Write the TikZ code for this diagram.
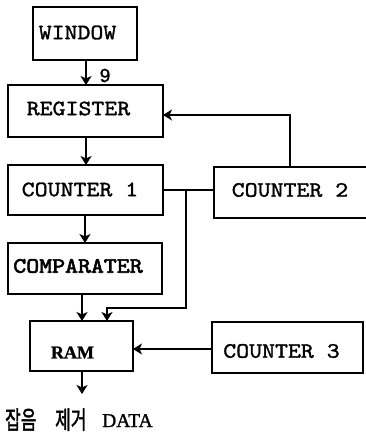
\documentclass[tikz,border=0pt]{standalone}
\usepackage{fontspec}
\usepackage{graphicx}
\setmainfont{Liberation Serif}
\newfontfamily\monof[FakeBold=1.3]{lmmono10-regular.otf}
\newfontfamily\monobf[FakeBold=2.6]{lmmono10-regular.otf}
\newfontfamily\serifbf[FakeBold=1.2]{Liberation Serif}
\newfontfamily\sansf[FakeBold=1.2]{Liberation Sans}
\newfontfamily\krf[FakeBold=2]{Noto Sans CJK KR}
\newcommand{\tw}[1]{\scalebox{1.12}[1]{#1}}
\usetikzlibrary{arrows.meta}
\begin{document}
\begin{tikzpicture}[x=1pt,y=-1pt,
  box/.style={draw, line width=2.2pt, inner sep=0pt, outer sep=0pt, anchor=north west},
  lbl/.style={inner sep=0pt, font=\monof\fontsize{22}{24}\selectfont},
  conn/.style={line width=2.2pt},
  arr/.style={conn, -{Stealth[length=9pt,width=11pt,inset=2.5pt]}}]
\useasboundingbox (0,0) rectangle (365,432);
% boxes
\node[box, minimum width=104pt, minimum height=53pt] (win) at (33,7) {};
\node[box, minimum width=155pt, minimum height=52pt] (reg) at (8,85) {};
\node[box, minimum width=155pt, minimum height=50pt] (c1) at (8,165) {};
\node[box, minimum width=154pt, minimum height=51pt] (c2) at (214,167) {};
\node[box, minimum width=154pt, minimum height=51pt] (cmp) at (8,243) {};
\node[box, minimum width=103pt, minimum height=50pt] (ram) at (30,321) {};
\node[box, minimum width=151pt, minimum height=51pt] (c3) at (212,322) {};
% labels
\node[lbl] (wint) at (77.5,32.5) {\tw{WINDOW}};
\node[lbl] (regt) at (78.5,108.5) {\tw{REGISTER}};
\node[lbl] (c1t) at (80,189.5) {\tw{COUNTER 1}};
\node[lbl] (c2t) at (290,190) {\tw{COUNTER 2}};
\node[lbl, font=\monobf\fontsize{22}{24}\selectfont] (cmpt) at (78,266) {\tw{COMPARATER}};
\node[inner sep=0pt, font=\serifbf\bfseries\fontsize{18}{20}\selectfont] (ramt) at (72.5,352.5) {RAM};
\node[lbl] (c3t) at (281.5,351) {\tw{COUNTER 3}};
% connectors
\draw[arr] (86,60) coordinate (w1) -- (w1 |- reg.north);
\node[inner sep=0pt, font=\sansf\fontsize{19}{21}\selectfont] (nine) at (105,75.5) {9};
\draw[arr] (86,137) coordinate (r1) -- (r1 |- c1.north);
\draw[arr] (85,215) coordinate (k1) -- (k1 |- cmp.north);
\draw[arr] (82,294) coordinate (m1) -- (m1 |- ram.north);
\draw[arr] (290,167) coordinate (t2) -- (290,115) -- (reg.east |- 0,115);
\draw[conn] (c1.east |- 0,190) coordinate (j0) -- (c2.west |- 0,190);
\coordinate (j1) at (186,190);
\draw[arr] (j1) -- (186,308) -- (107,308) -- (107,321);
\draw[arr] (c3.west |- 0,349) -- (ram.east |- 0,349);
\coordinate (out) at (82,394);
\draw[arr] (ram.south -| out) -- (out);
% output text
\node[inner sep=0pt, anchor=base west] (kr1) at (5,429) {\krf\fontsize{25}{27}\selectfont\scalebox{0.68}[1]{잡음}};
\node[inner sep=0pt, anchor=base west] (kr2) at (55,429) {\krf\fontsize{25}{27}\selectfont\scalebox{0.68}[1]{제거}};
\node[inner sep=0pt, anchor=base west, font=\serifbf\fontsize{19.5}{21}\selectfont] (data) at (102,427) {DATA};
\end{tikzpicture}
\end{document}
